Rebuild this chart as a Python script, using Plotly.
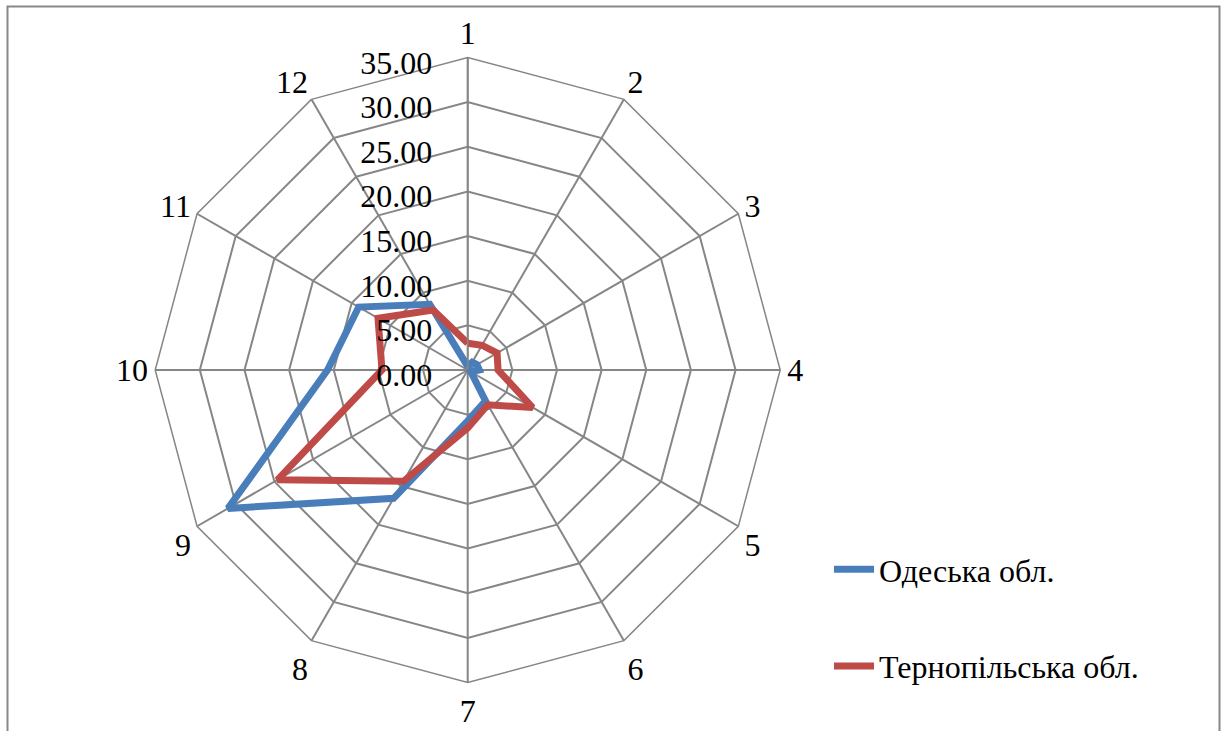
import plotly.graph_objects as go

# Categories around the radar and the two regional series
categories = ["1", "2", "3", "4", "5", "6", "7", "8", "9", "10", "11", "12"]
odesa = [0.4, 1.0, 1.2, 1.3, 0.4, 4.0, 5.7, 16.6, 31.0, 15.7, 14.1, 8.5]
ternopil = [3.0, 3.2, 3.8, 3.4, 8.4, 4.5, 6.5, 14.4, 24.6, 9.6, 11.6, 7.75]

radial_ticks = [0, 5, 10, 15, 20, 25, 30, 35]
radial_ticktext = ["%.2f" % v for v in radial_ticks]

W, H = 1221, 731
cx, cy, R = 467.7, 370.0, 312.5

FONT = "Liberation Serif"
GRID = "#868686"

fig = go.Figure()


def closed(vals):
    return vals + vals[:1]


fig.add_trace(go.Scatterpolar(
    r=closed(odesa), theta=closed(categories), mode="lines",
    name="Одеська обл.", line=dict(color="#4A7EBB", width=7),
    legendgroup="a",
))
fig.add_trace(go.Scatterpolar(
    r=closed(ternopil), theta=closed(categories), mode="lines",
    name="Тернопільська обл.", line=dict(color="#BE4B48", width=7),
    legendgroup="b",
))

fig.update_layout(
    width=W, height=H,
    margin=dict(l=0, r=0, t=0, b=0),
    paper_bgcolor="white",
    font=dict(family=FONT, size=32, color="black"),
    polar=dict(
        domain=dict(x=[(cx - R) / W, (cx + R) / W],
                    y=[(H - cy - R) / H, (H - cy + R) / H]),
        bgcolor="white",
        gridshape="linear",
        radialaxis=dict(
            range=[0, 35], tickvals=radial_ticks, ticktext=radial_ticktext,
            angle=90, side="counterclockwise", showline=True,
            linecolor=GRID, linewidth=1.5, gridcolor=GRID, gridwidth=1.5,
            ticks="outside", ticklen=6, tickcolor="rgba(0,0,0,0)",
            tickfont=dict(family=FONT, size=32),
        ),
        angularaxis=dict(
            categoryarray=categories, categoryorder="array",
            direction="clockwise", rotation=90,
            showline=True, linecolor=GRID, linewidth=1.5,
            gridcolor=GRID, gridwidth=1.5,
            ticks="outside", ticklen=0, tickcolor="rgba(0,0,0,0)",
            tickfont=dict(family=FONT, size=32),
        ),
    ),
    legend=dict(
        x=829 / W, y=1 - 542 / H, xanchor="left", yanchor="top",
        font=dict(family=FONT, size=32),
        traceorder="grouped", tracegroupgap=52,
        itemwidth=40, bgcolor="rgba(0,0,0,0)",
    ),
    shapes=[dict(
        type="rect", xref="paper", yref="paper",
        x0=7.5 / W, x1=1219.5 / W, y0=-0.05, y1=1 - 6.5 / H,
        line=dict(color="#888888", width=2), fillcolor="rgba(0,0,0,0)",
        layer="below",
    )],
)

fig.write_html("out.html")
